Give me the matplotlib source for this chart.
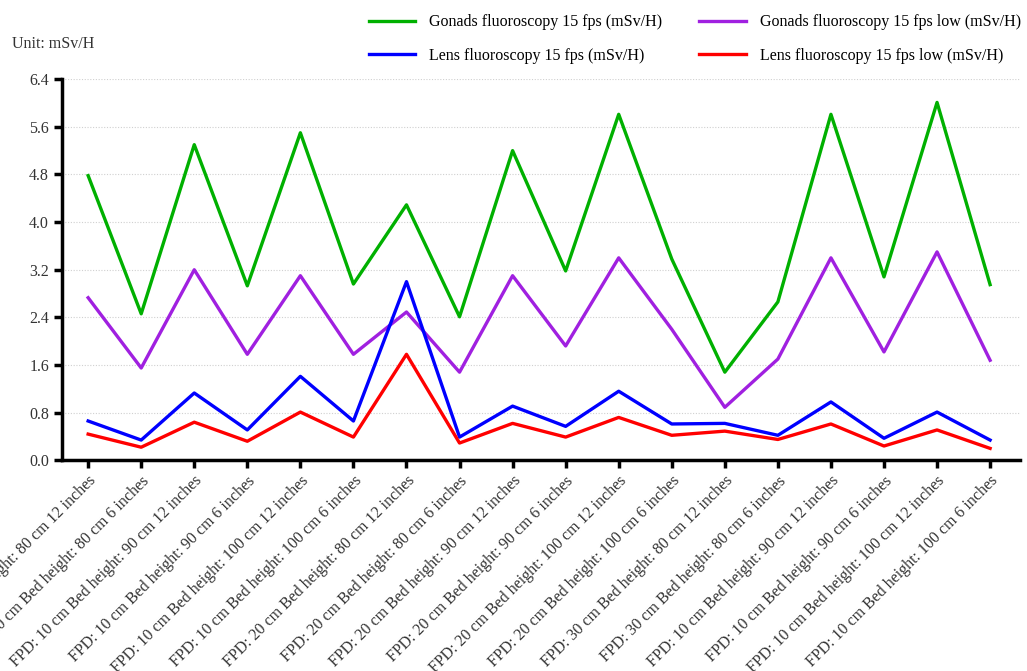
import numpy as np
import matplotlib.pyplot as plt

plt.rcParams['font.family'] = ['Liberation Serif', 'DejaVu Serif']

labels = [
    'FPD: 10 cm Bed height: 80 cm 12 inches',
    'FPD: 10 cm Bed height: 80 cm 6 inches',
    'FPD: 10 cm Bed height: 90 cm 12 inches',
    'FPD: 10 cm Bed height: 90 cm 6 inches',
    'FPD: 10 cm Bed height: 100 cm 12 inches',
    'FPD: 10 cm Bed height: 100 cm 6 inches',
    'FPD: 20 cm Bed height: 80 cm 12 inches',
    'FPD: 20 cm Bed height: 80 cm 6 inches',
    'FPD: 20 cm Bed height: 90 cm 12 inches',
    'FPD: 20 cm Bed height: 90 cm 6 inches',
    'FPD: 20 cm Bed height: 100 cm 12 inches',
    'FPD: 20 cm Bed height: 100 cm 6 inches',
    'FPD: 30 cm Bed height: 80 cm 12 inches',
    'FPD: 30 cm Bed height: 80 cm 6 inches',
    'FPD: 10 cm Bed height: 90 cm 12 inches',
    'FPD: 10 cm Bed height: 90 cm 6 inches',
    'FPD: 10 cm Bed height: 100 cm 12 inches',
    'FPD: 10 cm Bed height: 100 cm 6 inches',
]

gonads_15 = [4.78, 2.46, 5.30, 2.93, 5.50, 2.96, 4.29, 2.41, 5.20, 3.18,
             5.81, 3.38, 1.48, 2.66, 5.81, 3.08, 6.01, 2.95]
gonads_15_low = [2.73, 1.55, 3.20, 1.78, 3.10, 1.78, 2.49, 1.48, 3.10, 1.92,
                 3.40, 2.20, 0.89, 1.70, 3.40, 1.82, 3.50, 1.68]
lens_15 = [0.66, 0.34, 1.13, 0.51, 1.41, 0.66, 3.00, 0.39, 0.91, 0.57,
           1.16, 0.61, 0.62, 0.42, 0.98, 0.37, 0.81, 0.34]
lens_15_low = [0.44, 0.22, 0.64, 0.32, 0.81, 0.39, 1.78, 0.29, 0.62, 0.39,
               0.72, 0.42, 0.49, 0.35, 0.61, 0.24, 0.51, 0.20]

yticks = [0.0, 0.8, 1.6, 2.4, 3.2, 4.0, 4.8, 5.6, 6.4]

fig = plt.figure(figsize=(10.27, 6.71), dpi=100)
ax = fig.add_axes([0.060, 0.314, 0.933, 0.568])

x = np.arange(len(labels))
lw = 2.4
l_g, = ax.plot(x, gonads_15, color='#00b000', lw=lw, label='Gonads fluoroscopy 15 fps (mSv/H)')
l_p, = ax.plot(x, gonads_15_low, color='#a020e0', lw=lw, label='Gonads fluoroscopy 15 fps low (mSv/H)')
l_b, = ax.plot(x, lens_15, color='#0000ff', lw=lw, label='Lens fluoroscopy 15 fps (mSv/H)')
l_r, = ax.plot(x, lens_15_low, color='#ff0000', lw=lw, label='Lens fluoroscopy 15 fps low (mSv/H)')

ax.set_xlim(-0.5, 17.56)
ax.set_ylim(0, 6.4)
ax.set_yticks(yticks)
ax.set_yticklabels([f'{v:.1f}' for v in yticks], fontsize=11.5, color='#333333')
ax.set_xticks(x)
ax.set_xticklabels(labels, rotation=45, ha='right', rotation_mode='anchor',
                   fontsize=11.5, color='#333333')

# faint dotted horizontal grid
ax.grid(axis='y', linestyle=(0, (1, 1.5)), color='#d0d0d0', lw=0.8)
ax.set_axisbelow(True)
for side in ['top', 'right']:
    ax.spines[side].set_visible(False)
for side in ['left', 'bottom']:
    ax.spines[side].set_linewidth(2.5)
ax.tick_params(axis='both', direction='out', width=2.5, length=6, pad=3)

fig.text(0.012, 0.935, 'Unit: mSv/H', fontsize=11.5, color='#333333', va='center')

fig.legend(handles=[l_g, l_b, l_p, l_r], loc='upper left',
           bbox_to_anchor=(0.345, 1.0), ncol=2, frameon=False,
           fontsize=11.5, handlelength=2.9, handletextpad=0.9,
           columnspacing=2.3, labelspacing=1.1)

fig.savefig('out.png', dpi=100)
